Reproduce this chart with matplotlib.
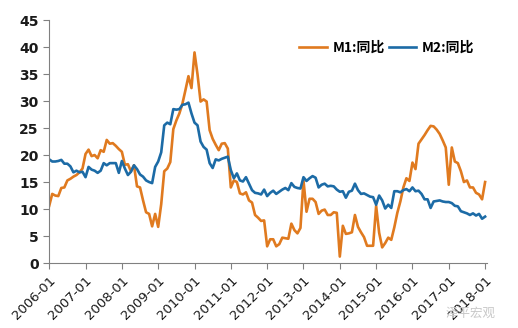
import numpy as np
import matplotlib
matplotlib.use("Agg")
import matplotlib.pyplot as plt

plt.rcParams['font.family'] = ['DejaVu Sans', 'Noto Sans CJK SC']

# monthly YoY growth, 2006-01 .. 2018-01
m1 = [10.6, 12.8, 12.5, 12.4, 13.9, 14.0, 15.3, 15.6, 16.0, 16.3, 16.8, 17.5,
      20.2, 21.0, 19.8, 20.0, 19.4, 20.9, 20.6, 22.8, 22.1, 22.2, 21.7, 21.1,
      20.6, 18.2, 18.3, 17.0, 18.1, 14.2, 14.0, 11.6, 9.4, 9.1, 6.8, 9.1,
      6.7, 10.9, 17.0, 17.5, 18.7, 24.8, 26.4, 27.7, 29.5, 32.0, 34.6, 32.4,
      39.0, 34.9, 29.9, 30.3, 29.9, 24.6, 23.0, 21.9, 20.9, 22.1, 22.2, 21.2,
      14.0, 15.3, 15.0, 12.9, 12.7, 13.1, 11.6, 11.2, 8.9, 8.4, 7.8, 7.9,
      3.1, 4.4, 4.4, 3.1, 3.5, 4.7, 4.6, 4.5, 7.3, 6.1, 5.5, 6.5,
      15.3, 9.5, 11.9, 11.9, 11.3, 9.1, 9.7, 9.9, 8.9, 8.9, 9.4, 9.3,
      1.2, 6.9, 5.4, 5.5, 5.7, 8.9, 6.7, 5.7, 4.8, 3.2, 3.2, 3.2,
      10.6, 5.6, 2.9, 3.7, 4.7, 4.3, 6.6, 9.3, 11.4, 14.0, 15.7, 15.2,
      18.6, 17.4, 22.1, 22.9, 23.7, 24.6, 25.4, 25.3, 24.7, 23.9, 22.7, 21.4,
      14.5, 21.4, 18.8, 18.5, 17.0, 15.0, 15.3, 14.0, 14.0, 13.0, 12.7, 11.8,
      15.0]
m2 = [19.2, 18.8, 18.8, 18.9, 19.1, 18.4, 18.4, 17.9, 16.8, 17.1, 16.8, 16.9,
      15.9, 17.8, 17.3, 17.1, 16.7, 17.1, 18.5, 18.1, 18.5, 18.5, 18.5, 16.7,
      18.9, 17.5, 16.3, 16.9, 18.1, 17.4, 16.4, 16.0, 15.3, 15.0, 14.8, 17.8,
      18.8, 20.5, 25.5, 26.0, 25.7, 28.5, 28.4, 28.5, 29.3, 29.4, 29.7, 27.7,
      26.0, 25.5, 22.5, 21.5, 21.0, 18.5, 17.6, 19.2, 19.0, 19.3, 19.5, 19.7,
      17.2, 15.7, 16.6, 15.3, 15.1, 15.9, 14.7, 13.5, 13.0, 12.9, 12.7, 13.6,
      12.4, 13.0, 13.4, 12.8, 13.2, 13.6, 13.9, 13.5, 14.8, 14.1, 13.9, 13.8,
      15.9, 15.2, 15.7, 16.1, 15.8, 14.0, 14.5, 14.7, 14.2, 14.3, 14.2, 13.6,
      13.2, 13.3, 12.1, 13.2, 13.4, 14.7, 13.5, 12.8, 12.9, 12.6, 12.3, 12.2,
      10.8, 12.5, 11.6, 10.1, 10.8, 10.2, 13.3, 13.3, 13.1, 13.5, 13.7, 13.3,
      14.0, 13.3, 13.4, 12.8, 11.8, 11.8, 10.2, 11.4, 11.5, 11.6, 11.4, 11.3,
      11.3, 11.1, 10.6, 10.5, 9.6, 9.4, 9.2, 8.9, 9.2, 8.8, 9.1, 8.2,
      8.6]
tick_labels = ['%d-01' % y for y in range(2006, 2019)]

x = np.arange(len(m1))

fig = plt.figure(figsize=(5.18, 3.28), dpi=100)
ax = fig.add_axes([0.095, 0.198, 0.845, 0.741])
ax.plot(x, m1, color='#E07A1F', lw=1.9, label='M1:同比')
ax.plot(x, m2, color='#1C6BA6', lw=1.9, label='M2:同比')

ax.set_xlim(0, 144.6)
ax.set_ylim(0, 45)
ax.set_yticks(range(0, 46, 5))
ax.set_xticks(range(0, 145, 12))
ax.set_xticklabels(tick_labels, rotation=45, ha='right', rotation_mode='anchor')
for s in ['top', 'right']:
    ax.spines[s].set_visible(False)
for s in ['left', 'bottom']:
    ax.spines[s].set_color('#808080')
ax.tick_params(axis='both', colors='#808080', length=4, labelcolor='#1a1a1a')
for lab in ax.get_yticklabels():
    lab.set_fontsize(10)
    lab.set_fontweight('bold')
for lab in ax.get_xticklabels():
    lab.set_fontsize(9.5)

leg = ax.legend(loc='upper right', bbox_to_anchor=(1.0, 0.965), ncol=2, frameon=False,
                prop={'family': ['Noto Sans CJK SC'], 'weight': 'bold', 'size': 10},
                handlelength=2.0, columnspacing=0.3, handletextpad=0.4)

fig.text(0.86, 0.035, '泽平宏观', color='#c8c8c8', fontsize=9,
         family=['Noto Sans CJK SC'])

fig.savefig('out.png', dpi=100)
